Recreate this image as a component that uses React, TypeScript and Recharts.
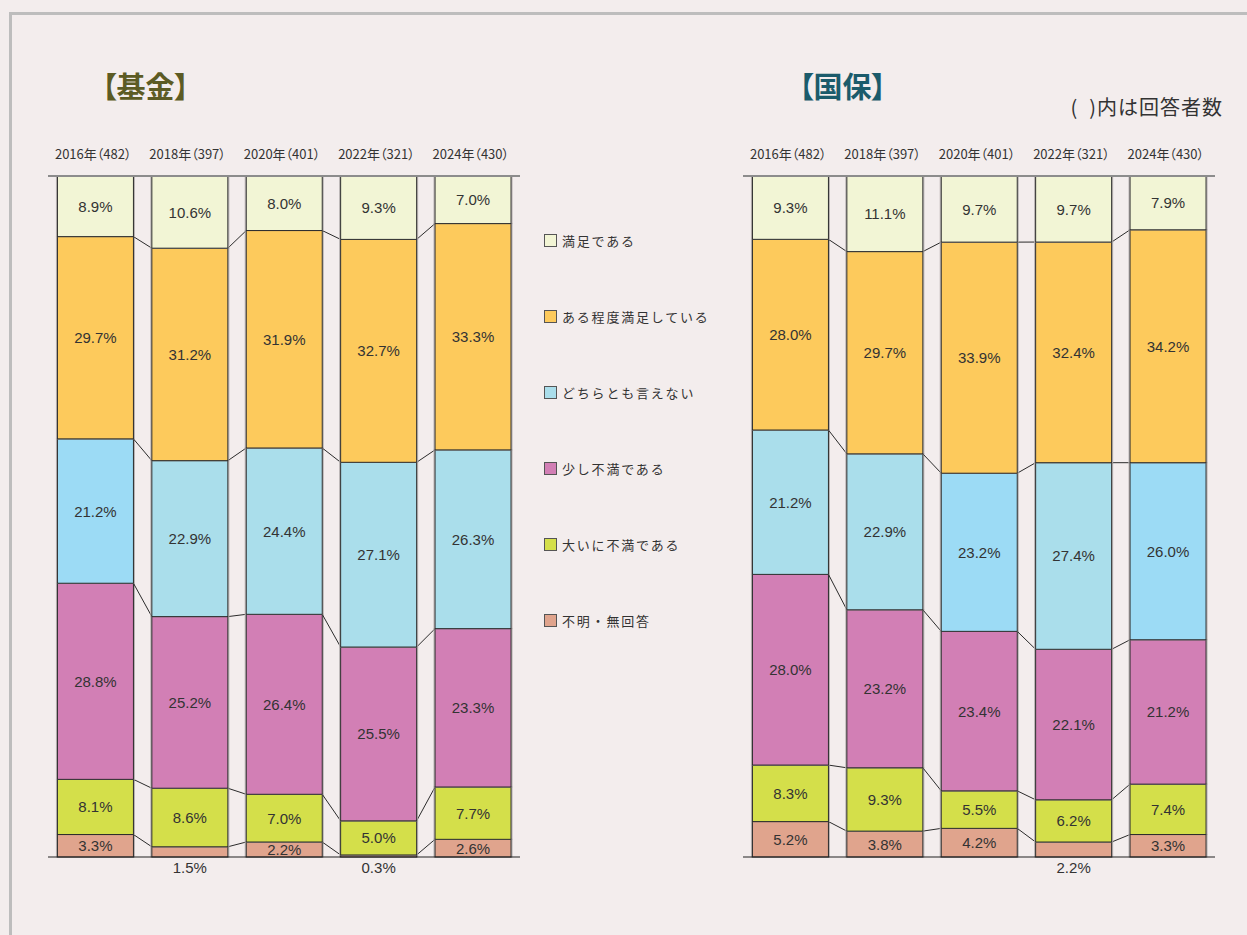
import React from 'react';
import { BarChart, Bar, XAxis, YAxis, Cell, ReferenceLine } from 'recharts';

const YEARS = ['2016年', '2018年', '2020年', '2022年', '2024年'];
const RESPONDENTS = [482, 397, 401, 321, 430];

const SERIES = ['満足である', 'ある程度満足している', 'どちらとも言えない', '少し不満である', '大いに不満である', '不明・無回答'];
// top of the stack -> bottom
const KEYS = ['satisfied', 'somewhat', 'neutral', 'slightly', 'very', 'unknown'];

// 基金
const KIKIN_SATISFIED = [8.9, 10.6, 8.0, 9.3, 7.0];
const KIKIN_SOMEWHAT = [29.7, 31.2, 31.9, 32.7, 33.3];
const KIKIN_NEUTRAL = [21.2, 22.9, 24.4, 27.1, 26.3];
const KIKIN_SLIGHTLY = [28.8, 25.2, 26.4, 25.5, 23.3];
const KIKIN_VERY = [8.1, 8.6, 7.0, 5.0, 7.7];
const KIKIN_UNKNOWN = [3.3, 1.5, 2.2, 0.3, 2.6];

// 国保
const KOKUHO_SATISFIED = [9.3, 11.1, 9.7, 9.7, 7.9];
const KOKUHO_SOMEWHAT = [28.0, 29.7, 33.9, 32.4, 34.2];
const KOKUHO_NEUTRAL = [21.2, 22.9, 23.2, 27.4, 26.0];
const KOKUHO_SLIGHTLY = [28.0, 23.2, 23.4, 22.1, 21.2];
const KOKUHO_VERY = [8.3, 9.3, 5.5, 6.2, 7.4];
const KOKUHO_UNKNOWN = [5.2, 3.8, 4.2, 2.2, 3.3];

// years whose 不明・無回答 label sits under the baseline
const KIKIN_BELOW = [1, 3];
const KOKUHO_BELOW = [3];

// years drawn with the brighter blue
const KIKIN_BRIGHT = [0];
const KOKUHO_BRIGHT = [2, 4];

const COLORS = ['#f2f5d5', '#fdca5c', '#aadeeb', '#d27fb5', '#d4df4a', '#e0a48d'];
const NEUTRAL_BRIGHT = '#9cdbf5';

const BG = '#f3eded';
const NUM_FONT = '"Liberation Sans", Arial, sans-serif';
const JP_FONT = '"Noto Sans CJK JP", "Noto Sans", sans-serif';

const CHART_W = 540;
const CHART_H = 900;

type Row = { [k: string]: any };

const buildRows = (cols: number[][]): Row[] =>
  YEARS.map((year, i) => {
    const row: Row = { year, label: `${year}（${RESPONDENTS[i]}）` };
    KEYS.forEach((k, j) => (row[k] = cols[j][i]));
    return row;
  });

// cumulative share from the bottom up to (and including) KEYS[keyIdx]
const topShare = (row: Row, keyIdx: number) => {
  const total = KEYS.reduce((s, k) => s + row[k], 0);
  let cum = 0;
  for (let j = KEYS.length - 1; j >= keyIdx; j--) cum += row[KEYS[j]];
  return cum / total;
};

const makeShape = (rows: Row[], keyIdx: number, below: number[], plotW: number) => (props: any) => {
  const { x, y, width, height, index, fill, background } = props;
  if (width == null || height == null) return null;
  const row = rows[index];
  const fTop = topShare(row, keyIdx);
  const fBot = keyIdx < KEYS.length - 1 ? topShare(row, keyIdx + 1) : 0;
  let plotTop: number;
  let plotH: number;
  if (background && background.height) {
    plotTop = background.y;
    plotH = background.height;
  } else {
    plotH = height / Math.max(fTop - fBot, 1e-6);
    plotTop = y - (1 - fTop) * plotH;
  }
  const step = plotW / rows.length;
  const value = row[KEYS[keyIdx]];
  const isBelow = below.includes(index);
  const next = rows[index + 1];
  return (
    <g>
      <rect x={x - 1} y={y} width={width + 2} height={height} fill="none" stroke="#b5b0b0" strokeWidth={1} />
      <rect x={x} y={y} width={width} height={height} fill={fill} stroke="#2b2b2b" strokeWidth={1} />
      {keyIdx > 0 && next && (
        <line
          x1={x + width}
          y1={y}
          x2={x + step}
          y2={plotTop + (1 - topShare(next, keyIdx)) * plotH}
          stroke="#2b2b2b"
          strokeWidth={1}
        />
      )}
      <text
        x={x + width / 2}
        y={isBelow ? plotTop + plotH + 10 : y + height / 2}
        textAnchor="middle"
        dominantBaseline="central"
        fontSize={15}
        fontFamily={NUM_FONT}
        fill="#333"
      >
        {`${value.toFixed(1)}%`}
      </text>
    </g>
  );
};

const YearTick = (props: any) => {
  const { x, y, payload } = props;
  return (
    <text
      x={x - 2}
      y={y}
      textAnchor="middle"
      fontSize={13}
      fontFamily={JP_FONT}
      fill="#333"
      style={{ fontFeatureSettings: '"palt"' }}
    >
      {payload.value}
    </text>
  );
};

type PanelProps = {
  rows: Row[];
  below: number[];
  bright: number[];
  left: number;
  marginLeft: number;
};

const Panel = ({ rows, below, bright, left, marginLeft }: PanelProps) => {
  const margin = { top: 146, right: CHART_W - marginLeft - 472, bottom: 43, left: marginLeft };
  const plotW = CHART_W - margin.left - margin.right;
  const stackOrder = [...KEYS.keys()].reverse(); // bottom first
  return (
    <div style={{ position: 'absolute', left, top: 0 }}>
      <BarChart
        width={CHART_W}
        height={CHART_H}
        data={rows}
        margin={margin}
        stackOffset="expand"
        barCategoryGap="10%"
      >
        <XAxis
          dataKey="label"
          orientation="top"
          height={30}
          axisLine={{ stroke: '#8c8c8c', strokeWidth: 2 }}
          tickLine={false}
          tickSize={0}
          tickMargin={17}
          interval={0}
          tick={<YearTick />}
        />
        <YAxis hide domain={[0, 1]} />
        {stackOrder.map((k) => (
          <Bar
            key={KEYS[k]}
            dataKey={KEYS[k]}
            stackId="a"
            fill={COLORS[k]}
            isAnimationActive={false}
            shape={makeShape(rows, k, KEYS[k] === 'unknown' ? below : [], plotW)}
          >
            {rows.map((_, i) => (
              <Cell
                key={i}
                fill={KEYS[k] === 'neutral' && bright.includes(i) ? NEUTRAL_BRIGHT : COLORS[k]}
              />
            ))}
          </Bar>
        ))}
        <ReferenceLine y={0} stroke="#222" strokeWidth={1.2} />
      </BarChart>
    </div>
  );
};

const KIKIN_ROWS = buildRows([KIKIN_SATISFIED, KIKIN_SOMEWHAT, KIKIN_NEUTRAL, KIKIN_SLIGHTLY, KIKIN_VERY, KIKIN_UNKNOWN]);
const KOKUHO_ROWS = buildRows([KOKUHO_SATISFIED, KOKUHO_SOMEWHAT, KOKUHO_NEUTRAL, KOKUHO_SLIGHTLY, KOKUHO_VERY, KOKUHO_UNKNOWN]);

const titleStyle: React.CSSProperties = {
  position: 'absolute',
  top: 71,
  fontSize: 29,
  lineHeight: 1,
  fontWeight: 700,
  fontFamily: JP_FONT,
  fontFeatureSettings: '"palt"',
  margin: 0,
};

const App: React.FC = () => {
  return (
    <div style={{ position: 'absolute', left: 0, top: 0, width: 1247, height: 935, background: BG, overflow: 'hidden' }}>
      <div
        style={{
          position: 'absolute',
          left: 9,
          top: 12,
          width: 1300,
          height: 1000,
          borderLeft: '3px solid #bdbdbd',
          borderTop: '3px solid #bdbdbd',
        }}
      />
      <div style={{ ...titleStyle, left: 102, color: '#5c5b24' }}>【基金】</div>
      <div style={{ ...titleStyle, left: 799, color: '#1b5b6b' }}>【国保】</div>
      <div
        style={{
          position: 'absolute',
          right: 1247 - 1223,
          top: 97,
          fontSize: 20,
          lineHeight: 1,
          letterSpacing: 1,
          fontFamily: JP_FONT,
          color: '#333',
        }}
      >
        (&#8194;)内は回答者数
      </div>

      <Panel rows={KIKIN_ROWS} below={KIKIN_BELOW} bright={KIKIN_BRIGHT} left={0} marginLeft={48} />
      <Panel rows={KOKUHO_ROWS} below={KOKUHO_BELOW} bright={KOKUHO_BRIGHT} left={700} marginLeft={43} />

      {SERIES.map((name, i) => (
        <div
          key={name}
          style={{
            position: 'absolute',
            left: 544,
            top: 231 + i * 76,
            height: 18,
            display: 'flex',
            alignItems: 'center',
            fontFamily: JP_FONT,
            fontSize: 13,
            letterSpacing: 1.8,
            color: '#333',
          }}
        >
          <span
            style={{
              display: 'inline-block',
              width: 11,
              height: 11,
              background: COLORS[i],
              border: '1.5px solid #555',
              marginRight: 5,
            }}
          />
          {name}
        </div>
      ))}
    </div>
  );
};

export default App;
